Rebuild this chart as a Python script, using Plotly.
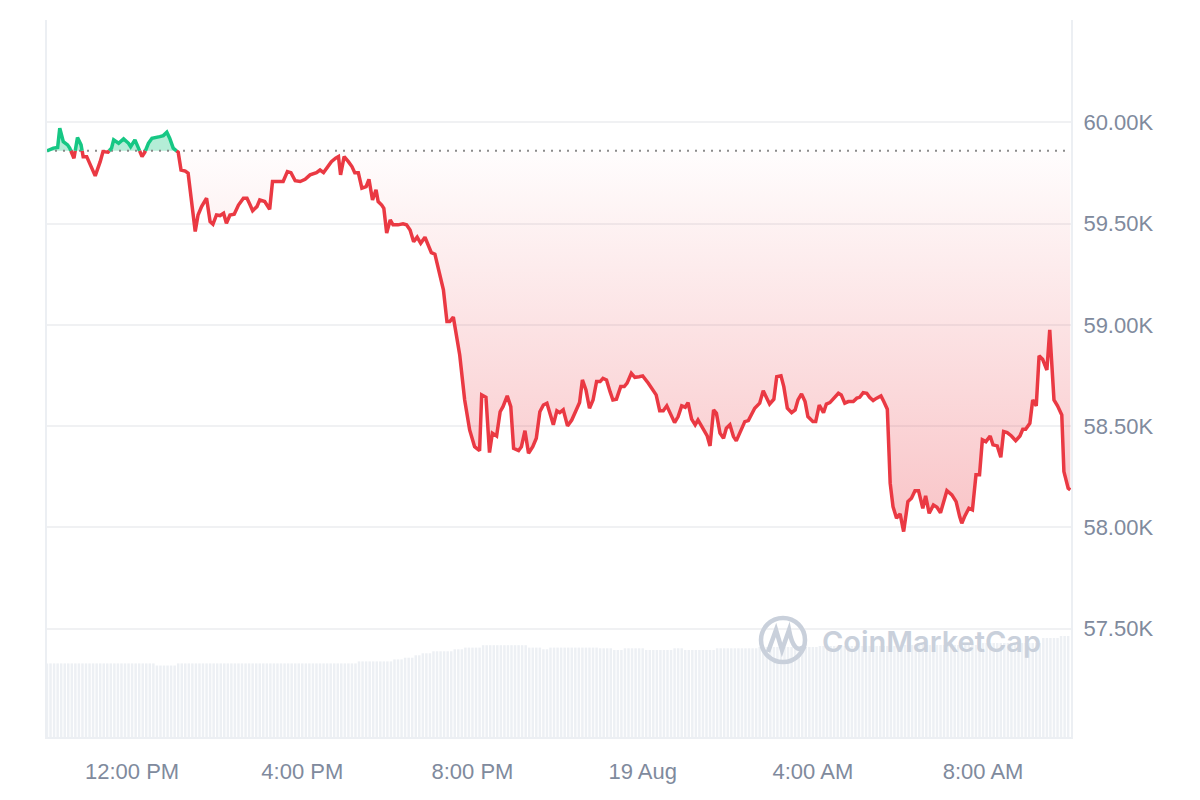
import plotly.graph_objects as go
from datetime import datetime, timedelta

# ---------------- data ----------------
start_time = datetime(2024, 8, 18, 10, 0)
end_minutes = 1444
base_price = 59860  # opening reference price (dotted line)

# minutes after 10:00 AM, 18 Aug 2024
minutes = [
    0, 9, 15, 18, 23, 29, 32, 38, 43, 48, 51, 56, 61, 68, 75, 79, 86, 91, 94, 101,
    108, 115, 118, 124, 129, 134, 138, 143, 148, 155, 159, 164, 169, 173, 178, 185, 189, 195, 199, 204,
    209, 213, 218, 225, 230, 234, 239, 244, 249, 253, 258, 264, 270, 277, 282, 286, 290,
    296, 300, 307, 314, 318, 324, 333, 339, 344, 350, 357, 364, 371, 380, 385, 390, 397, 401, 407, 411,
    414, 419, 425, 430, 434, 439, 444, 450, 454, 459, 464, 467, 472, 475, 479, 484, 488, 495, 502, 507,
    512, 517, 522, 527, 533, 538, 542, 547,
    554, 559, 564, 568, 573, 578, 582, 589, 596, 603, 610, 613, 619, 624, 628, 634, 639, 643, 649, 654,
    658, 665, 669, 674, 679, 685, 690, 695, 700, 705, 709, 714, 719, 723, 728, 734, 740, 747, 751, 755,
    760, 765, 770, 775, 780, 784, 789, 794, 798, 803, 809, 814, 818, 824, 829, 835,
    840, 848, 855, 859, 864, 869, 874, 879, 885, 890, 895, 900, 904, 909, 914, 918, 923, 928, 931, 935,
    940, 944, 949, 954, 958, 963, 968, 972, 977, 984, 989, 994, 998, 1005, 1010, 1015, 1019, 1025, 1029, 1035,
    1039, 1044, 1050, 1055, 1059, 1064, 1069, 1073, 1080, 1084, 1089, 1095, 1099, 1104, 1110, 1116, 1120, 1125, 1130,
    1137, 1142, 1146, 1151, 1156, 1160, 1165, 1170, 1176, 1180, 1185, 1189, 1193, 1198, 1203, 1208, 1214, 1219, 1224, 1229,
    1235, 1239, 1244, 1250, 1255, 1260, 1265, 1269, 1276, 1282, 1287, 1290, 1294, 1300, 1305, 1310, 1315, 1319, 1324, 1330,
    1334, 1340, 1345, 1349, 1354, 1360, 1366, 1372, 1376, 1380, 1386, 1390, 1395, 1399, 1404, 1410, 1414, 1420, 1425, 1431,
    1434, 1438, 1440, 1443,
]

prices = [
    59860, 59873, 59876, 59971, 59905, 59889, 59873, 59823, 59925, 59889, 59831, 59831, 59790, 59736, 59806, 59856, 59853, 59873, 59914, 59897,
    59919, 59897, 59880, 59914, 59873, 59831, 59853, 59897, 59922, 59925, 59930, 59935, 59952, 59922, 59873, 59853, 59765, 59760, 59749, 59592,
    59461, 59543, 59584, 59626, 59510, 59497, 59543, 59540, 59551, 59502, 59543, 59547, 59592, 59626, 59626, 59596, 59564,
    59584, 59617, 59609, 59571, 59708, 59708, 59708, 59757, 59752, 59712, 59708, 59719, 59741, 59752, 59765, 59752, 59790, 59806, 59823, 59831,
    59741, 59831, 59806, 59782, 59752, 59752, 59675, 59683, 59719, 59617, 59667, 59609, 59592, 59576, 59453, 59518, 59494, 59494, 59499, 59494,
    59469, 59411, 59433, 59403, 59433, 59390, 59357, 59349,
    59238, 59173, 59016, 59016, 59038, 58942, 58851, 58629, 58481, 58398, 58379, 58654, 58642, 58369, 58465, 58451, 58571, 58596, 58649, 58596,
    58390, 58379, 58398, 58477, 58366, 58398, 58440, 58571, 58604, 58613, 58563, 58506, 58575, 58566, 58580, 58501, 58530, 58588, 58616, 58728,
    58679, 58588, 58629, 58720, 58720, 58736, 58728, 58670, 58629, 58633, 58695, 58695, 58712, 58761, 58741, 58744,
    58748, 58712, 58670, 58654, 58576, 58576, 58600, 58563, 58517, 58547, 58600, 58593, 58616, 58534, 58506, 58530, 58497, 58473, 58451, 58402,
    58580, 58563, 58465, 58440, 58489, 58506, 58448, 58427, 58465, 58522, 58527, 58566, 58588, 58613, 58675, 58638, 58609, 58633, 58744, 58748,
    58695, 58588, 58566, 58580, 58629, 58659, 58621, 58547, 58522, 58522, 58604, 58566, 58609, 58616, 58638, 58662, 58654, 58613, 58621,
    58621, 58638, 58642, 58665, 58662, 58642, 58626, 58638, 58649, 58621, 58583, 58218, 58102, 58045, 58066, 57979, 58127, 58144, 58181, 58181,
    58094, 58155, 58069, 58110, 58099, 58072, 58127, 58181, 58160, 58127, 58053, 58020, 58053, 58094, 58086, 58259, 58259, 58432, 58423, 58451,
    58407, 58402, 58346, 58473, 58468, 58451, 58428, 58451, 58484, 58484, 58514, 58629, 58600, 58847, 58830, 58777, 58975, 58629, 58600, 58555,
    58275, 58218, 58193, 58185,
]
assert len(minutes) == len(prices)

# 5-minute volume bars (billion USD), as runs of (value, number of bars)
volume_runs = [
    (14.72, 31), (14.30, 6), (14.72, 51), (15.12, 10), (15.52, 3), (15.86, 3), (16.34, 2),
    (16.74, 3), (17.14, 6), (17.54, 3), (17.88, 5), (18.36, 13), (17.88, 4), (17.54, 2),
    (17.88, 14), (17.74, 4), (17.40, 3), (17.74, 6), (17.40, 8), (17.74, 3), (17.40, 9),
    (17.74, 12), (18.00, 17), (18.20, 23), (18.40, 22), (18.80, 18), (19.80, 5), (20.20, 3),
]
volume = []
for v, n in volume_runs:
    volume += [v] * n
volume_times = [start_time + timedelta(minutes=5 * i) for i in range(len(volume))]

tick_times = [start_time + timedelta(hours=h) for h in (2, 6, 10, 14, 18, 22)]
tick_text = ["12:00 PM", "4:00 PM", "8:00 PM", "19 Aug", "4:00 AM", "8:00 AM"]
price_ticks = [57500, 58000, 58500, 59000, 59500, 60000]
price_tick_text = ["57.50K", "58.00K", "58.50K", "59.00K", "59.50K", "60.00K"]

RED = "#ea3943"
GREEN = "#16c784"
GREY_TXT = "#808a9d"

# ---------------- split above / below reference ----------------
times = [start_time + timedelta(minutes=m) for m in minutes]
xs, ys = [], []
for i, p in enumerate(prices):
    if i > 0:
        p0 = prices[i - 1]
        if (p0 - base_price) * (p - base_price) < 0:
            f = (base_price - p0) / (p - p0)
            xs.append(times[i - 1] + (times[i] - times[i - 1]) * f)
            ys.append(base_price)
    xs.append(times[i])
    ys.append(p)

upper = [max(y, base_price) for y in ys]
lower = [min(y, base_price) for y in ys]
green_line = [y if y >= base_price else None for y in ys]
red_line = [y if y <= base_price else None for y in ys]
base_line = [base_price] * len(xs)

fig = go.Figure()

# volume bars
fig.add_trace(go.Bar(x=volume_times, y=volume, yaxis="y2", marker=dict(color="#edf0f4", line_width=0),
                     hoverinfo="skip", showlegend=False))

# green area
fig.add_trace(go.Scatter(x=xs, y=base_line, mode="lines", line=dict(width=0), hoverinfo="skip", showlegend=False))
fig.add_trace(go.Scatter(x=xs, y=upper, mode="lines", line=dict(width=0), fill="tonexty",
                         fillcolor="rgba(22,199,132,0.32)", hoverinfo="skip", showlegend=False))
# red area with vertical gradient
fig.add_trace(go.Scatter(x=xs, y=base_line, mode="lines", line=dict(width=0), hoverinfo="skip", showlegend=False))
fig.add_trace(go.Scatter(x=xs, y=lower, mode="lines", line=dict(width=0), fill="tonexty",
                         fillgradient=dict(type="vertical", start=min(prices), stop=base_price,
                                           colorscale=[[0, "rgba(234,57,67,0.30)"], [1, "rgba(234,57,67,0.01)"]]),
                         hoverinfo="skip", showlegend=False))

# reference dotted line
fig.add_trace(go.Scatter(x=[start_time, start_time + timedelta(minutes=end_minutes - 3)],
                         y=[base_price, base_price], mode="lines",
                         line=dict(color="rgba(120,120,120,0.85)", width=2, dash="2px,6px"),
                         hoverinfo="skip", showlegend=False))

# price lines
fig.add_trace(go.Scatter(x=xs, y=red_line, mode="lines", line=dict(color=RED, width=3.5),
                         connectgaps=False, showlegend=False))
fig.add_trace(go.Scatter(x=xs, y=green_line, mode="lines", line=dict(color=GREEN, width=3.5),
                         connectgaps=False, showlegend=False))

# ---------------- watermark ----------------
def px(x):
    return (x - 47) / 1024

def py(y):
    return (737 - y) / 717

wm = "#c9d0db"
fig.add_shape(type="circle", xref="paper", yref="paper",
              x0=px(761), x1=px(805), y0=py(662), y1=py(618),
              line=dict(color=wm, width=4.5))
fig.add_shape(type="path", xref="paper", yref="paper",
              path=(f"M {px(768)} {py(652)} L {px(776)} {py(630)} L {px(782)} {py(650)} "
                    f"L {px(789)} {py(630)} Q {px(794)} {py(656)} {px(805)} {py(646)}"),
              line=dict(color=wm, width=4.5))
fig.add_annotation(text="CoinMarketCap", xref="paper", yref="paper", x=px(931), y=py(641),
                   xanchor="center", yanchor="middle",
                   showarrow=False, font=dict(family="Inter", size=29, color=wm, weight=600))

fig.update_layout(
    width=1200, height=800,
    margin=dict(l=47, r=129, t=20, b=63),
    paper_bgcolor="white", plot_bgcolor="white",
    bargap=0.3,
    hovermode=False,
    xaxis=dict(type="date", range=[start_time, start_time + timedelta(minutes=end_minutes)],
               tickvals=tick_times, ticktext=tick_text, showgrid=False, zeroline=False,
               showline=True, linecolor="#eceff3", linewidth=2,
               tickfont=dict(family="Liberation Sans, Arial", size=22, color=GREY_TXT),
               ticks="", ticklabelstandoff=14),
    yaxis=dict(side="right", range=[56964, 60506], tickvals=price_ticks, ticktext=price_tick_text,
               showgrid=True, gridcolor="#f0f1f3", gridwidth=2, zeroline=False,
               showline=True, mirror=True, linecolor="#eceff3", linewidth=2,
               tickfont=dict(family="Liberation Sans, Arial", size=22, color=GREY_TXT),
               ticks="", ticklabelstandoff=6),
    yaxis2=dict(overlaying="y", range=[0, 143.4], visible=False, fixedrange=True),
)

fig.write_html("out.html", config={"displayModeBar": False},
               post_script="document.body.style.margin='0';")
